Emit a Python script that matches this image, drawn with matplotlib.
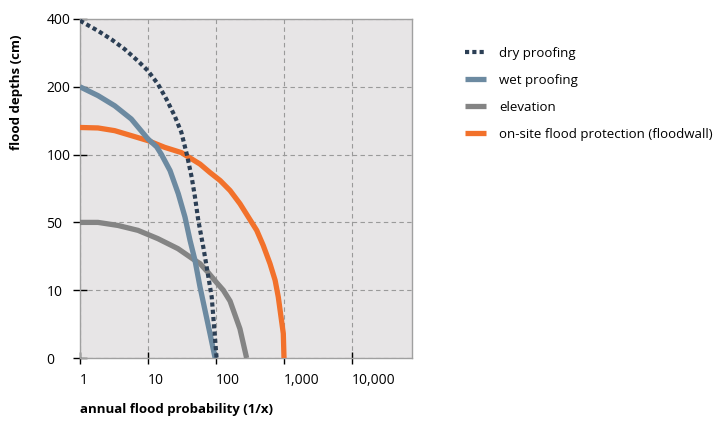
import numpy as np
import matplotlib
matplotlib.use("Agg")
import matplotlib.pyplot as plt

plt.rcParams['font.family'] = ['Open Sans', 'DejaVu Sans']

# y tick values (equally spaced on the chart)
y_ticks = [0, 10, 50, 100, 200, 400]
x_ticks = [1, 10, 100, 1000, 10000]
x_labels = ["1", "10", "100", "1,000", "10,000"]

dry_x = [1, 1.84, 2.89, 4.54, 7.13, 10, 14.0, 18.6, 24.7, 30.9, 37.1,
         43.9, 49.1, 54.9, 65.0, 68.9, 73.0, 86.5, 102]
dry_y = [395, 365, 340, 311, 276, 247, 208, 182, 157, 133, 101,
         83.3, 68.6, 51.5, 35.5, 29.6, 23.7, 9.0, 0]

wet_x = [1, 1.84, 3.24, 5.68, 10, 13.4, 15.7, 21.1, 27.9, 35.0, 41.5,
         49.1, 58.2, 81.6, 97]
wet_y = [200, 187, 172, 152.5, 123, 111.5, 100.5, 88.2, 71.1, 53.9, 39.4,
         27.6, 11.9, 3.6, 0]

elev_x = [1, 1.84, 3.62, 7.13, 14.0, 27.6, 49.0, 58.2, 76, 102, 128, 161,
          225, 282]
elev_y = [50, 50, 48.2, 45.3, 40.4, 34.5, 27.6, 25.7, 20.6, 14.5, 10, 8.4,
          4.3, 0]

wall_x = [1, 1.84, 3.24, 5.68, 10, 17.6, 30.9, 58.2, 81.5, 115, 161,
          225, 397, 494, 622, 740, 824, 977, 1000]
wall_y = [140, 139.3, 135.3, 128, 120.6, 110.7, 103, 93, 86.8, 80.9,
          73.5, 63.8, 45.3, 36.5, 25.7, 15.9, 9.0, 3.6, 0]

series_labels = ["dry proofing", "wet proofing", "elevation",
                 "on-site flood protection (floodwall)"]

positions = np.arange(len(y_ticks), dtype=float)

def fwd(v):
    return np.interp(v, y_ticks, positions)

def inv(p):
    return np.interp(p, positions, y_ticks)

W, H = 727, 422
fig = plt.figure(figsize=(W / 100, H / 100), dpi=100)
ax = fig.add_axes([80 / W, 1 - 358 / H, (412 - 80) / W, (358 - 19) / H])
ax.set_facecolor('#e7e5e6')

ax.set_xscale('log')
ax.set_yscale('function', functions=(fwd, inv))
ax.set_xlim(1, 10 ** ((412 - 80) / 68))
ax.set_ylim(0, 400)

lw = 3.8
l1, = ax.plot(dry_x, dry_y, color='#2c3f55', lw=3.0, dashes=(1.0, 0.75),
              dash_capstyle='butt', label=series_labels[0], zorder=5)
l2, = ax.plot(wet_x, wet_y, color='#6c8aa1', lw=lw, label=series_labels[1],
              solid_capstyle='butt', solid_joinstyle='round', zorder=4)
l3, = ax.plot(elev_x, elev_y, color='#848484', lw=lw, label=series_labels[2],
              solid_capstyle='butt', solid_joinstyle='round', zorder=3)
l4, = ax.plot(wall_x, wall_y, color='#f2712b', lw=lw, label=series_labels[3],
              solid_capstyle='butt', solid_joinstyle='round', zorder=3)

ax.set_yticks(y_ticks)
ax.set_yticklabels([str(v) for v in y_ticks])
ax.set_xticks(x_ticks)
ax.set_xticklabels(x_labels)
ax.xaxis.set_minor_locator(matplotlib.ticker.NullLocator())
ax.yaxis.set_minor_locator(matplotlib.ticker.NullLocator())

ax.grid(True, color='#9a9a9a', linestyle=(0, (4, 3)), linewidth=0.8)
ax.set_axisbelow(True)
for s in ['top', 'right', 'left', 'bottom']:
    ax.spines[s].set_color('#a0a0a0')
    ax.spines[s].set_linewidth(1.0)

ax.tick_params(axis='y', direction='inout', length=9.5, width=1, color='black',
               labelsize=10, pad=19.5)
for t in ax.get_yticklabels():
    t.set_horizontalalignment('left')
ax.tick_params(axis='x', direction='inout', length=8, width=1, color='black',
               labelsize=10, pad=7)
for t in ax.get_xticklabels():
    t.set_horizontalalignment('left')

fig.text(80 / W, 1 - 410 / H, "annual flood probability (1/x)", fontsize=9.5,
         fontweight='bold', ha='left', va='center')
fig.text(17 / W, 1 - 92 / H, "flood depths (cm)", fontsize=9.5,
         fontweight='bold', ha='center', va='center', rotation=90)

fig.legend(handles=[l1, l2, l3, l4], loc='upper left',
           bbox_to_anchor=(465 / W, 1 - 47 / H), frameon=False, fontsize=9.5,
           borderpad=0, borderaxespad=0, handlelength=1.6, handletextpad=1.0,
           labelspacing=1.05)

fig.savefig('out.png', dpi=100)
